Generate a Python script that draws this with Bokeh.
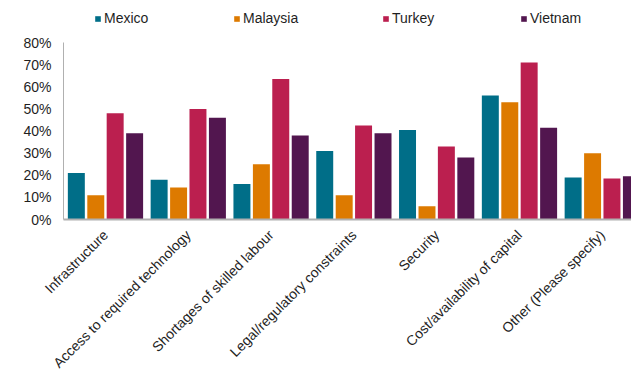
import math
from bokeh.plotting import figure
from bokeh.models import (ColumnDataSource, Range1d, FixedTicker, NumeralTickFormatter,
                          Legend, LegendItem)
from bokeh.embed import file_html
from bokeh.resources import INLINE

categories = ["Infrastructure", "Access to required technology", "Shortages of skilled labour",
              "Legal/regulatory constraints", "Security", "Cost/availability of capital",
              "Other (Please specify)"]
series_names = ["Mexico", "Malaysia", "Turkey", "Vietnam"]
mexico = [0.21, 0.18, 0.16, 0.31, 0.405, 0.56, 0.19]
malaysia = [0.11, 0.145, 0.25, 0.11, 0.06, 0.53, 0.30]
turkey = [0.48, 0.50, 0.635, 0.425, 0.33, 0.71, 0.185]
vietnam = [0.39, 0.46, 0.38, 0.39, 0.28, 0.415, 0.195]
y_ticks = [0, 0.1, 0.2, 0.3, 0.4, 0.5, 0.6, 0.7, 0.8]

colors = ["#006E88", "#DD7A00", "#BB1F4F", "#52164F"]
offsets = [-0.352, -0.117, 0.117, 0.352]
FONT = "Liberation Sans"
TEXT = "#1f1f1f"

# frame spans the whole top band (legend lives inside it); y axis line bounded to 0..80%
p = figure(frame_width=568, frame_height=219, min_border_left=63, min_border_top=0,
           min_border_bottom=155, min_border_right=0,
           x_range=Range1d(-0.507, 6.353), y_range=Range1d(0, 0.8 * 219 / 177),
           output_backend="svg", toolbar_location=None)
p.outline_line_color = None
p.xgrid.visible = False
p.ygrid.visible = False

x = list(range(len(categories)))
renderers = []
for name, vals, col, off in zip(series_names, [mexico, malaysia, turkey, vietnam], colors, offsets):
    src = ColumnDataSource(dict(x=[xi + off for xi in x], top=vals))
    r = p.vbar(x="x", top="top", width=0.205, source=src, fill_color=col, line_color=None)
    renderers.append(r)

# axes
p.yaxis.ticker = FixedTicker(ticks=y_ticks)
p.yaxis.formatter = NumeralTickFormatter(format="0%")
p.yaxis.bounds = (0, 0.8)
p.yaxis.major_tick_line_color = None
p.yaxis.minor_tick_line_color = None
p.yaxis.axis_line_color = "#B0B0B0"
p.yaxis.major_label_standoff = 6
p.yaxis.major_label_text_font = FONT
p.yaxis.major_label_text_font_size = "14px"
p.yaxis.major_label_text_color = TEXT

p.xaxis.ticker = FixedTicker(ticks=x)
p.xaxis.major_label_overrides = {i: c for i, c in enumerate(categories)}
p.xaxis.major_label_orientation = math.pi / 4
p.xaxis.major_tick_line_color = None
p.xaxis.minor_tick_line_color = None
p.xaxis.axis_line_color = "#B0B0B0"
p.xaxis.axis_line_width = 2
p.xaxis.major_label_standoff = 7
p.xaxis.major_label_text_font = FONT
p.xaxis.major_label_text_font_size = "14px"
p.xaxis.major_label_text_color = TEXT

# legends, one per entry, placed in the band above the bars
leg_x = [31, 170, 319, 457]
for name, r, lx in zip(series_names, renderers, leg_x):
    lg = Legend(items=[LegendItem(label=name, renderers=[r])], location=(lx, 191),
                orientation="horizontal", padding=0, margin=0, spacing=0,
                glyph_width=7, glyph_height=7, label_standoff=3, label_height=20,
                border_line_color=None, background_fill_alpha=0,
                label_text_font=FONT, label_text_font_size="14px",
                label_text_color=TEXT)
    p.add_layout(lg, "center")

open("out.html", "w").write(file_html(p, INLINE))
